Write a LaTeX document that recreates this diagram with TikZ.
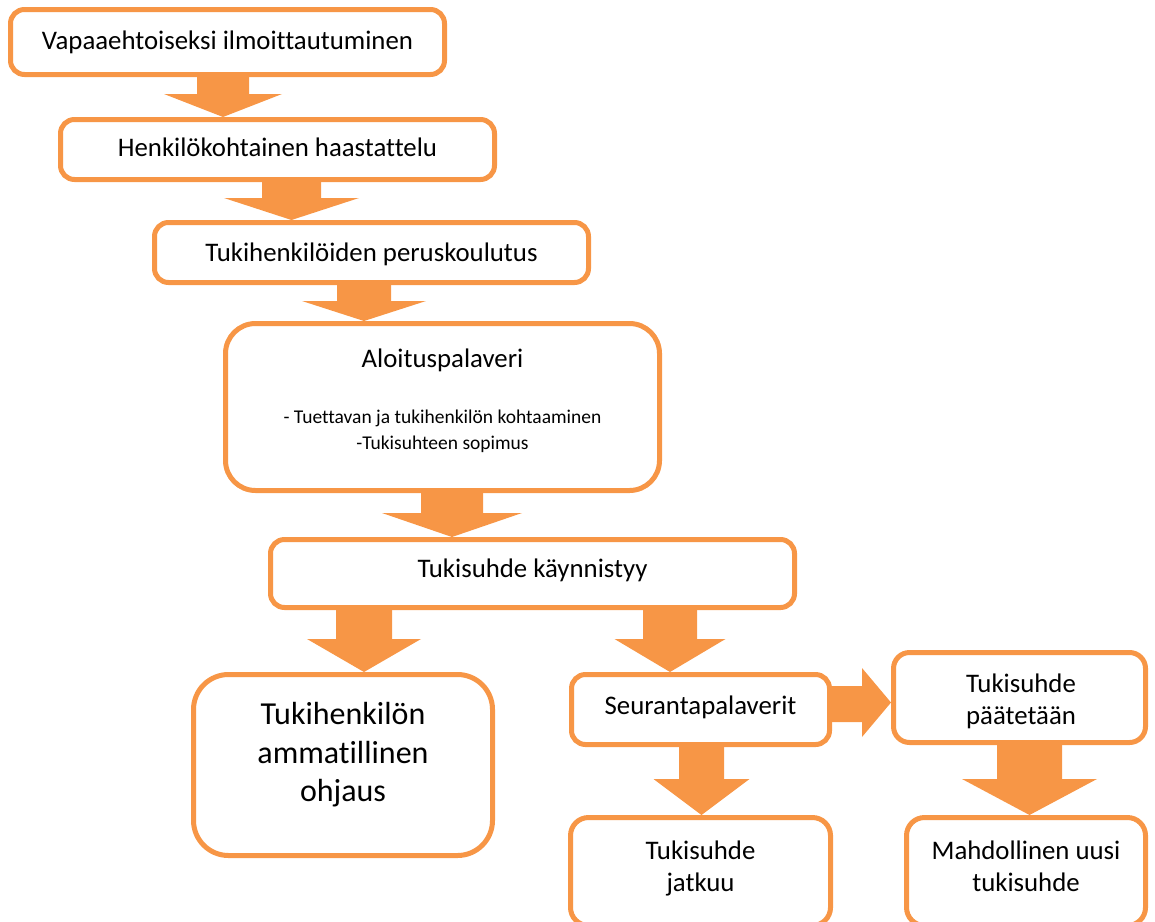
\documentclass[tikz,border=0pt]{standalone}
\usepackage{fontspec}
\setmainfont{Carlito}[Ligatures={NoCommon}]
\usetikzlibrary{calc}
\pgfdeclarelayer{background}
\pgfsetlayers{background,main}
\definecolor{accent}{HTML}{F79646}
\tikzset{
  box/.style={draw=accent, line width=5pt, fill=white, rounded corners=#1, inner sep=0pt},
  box/.default=14pt,
  lbl/.style={anchor=base, inner sep=0pt, text=black, font=\fontsize{26.8}{32}\selectfont},
  small/.style={lbl, font=\fontsize{19.5}{24}\selectfont},
  big/.style={lbl, font=\fontsize{32}{38}\selectfont},
  arr/.style={fill=accent, draw=none},
}
% #1 from node, #2 to node, #3 x, #4 shaft half width, #5 head half width, #6 y where head starts
\newcommand\BlockDown[6]{%
  \fill[arr] (#3-#4,0 |- #1.south) -- (#3-#4,#6) -- (#3-#5,#6) -- (#3,0 |- #2.north)
    -- (#3+#5,#6) -- (#3+#4,#6) -- (#3+#4,0 |- #1.south) -- cycle;}
\begin{document}
\begin{tikzpicture}[x=1pt, y=-1pt]
\useasboundingbox (0,0) rectangle (1155,921);
\clip (0,0) rectangle (1155,921);
% boxes
\node[box, minimum width=434pt, minimum height=65pt] (b1) at (227.5,42) {};
\node[box, minimum width=434pt, minimum height=60pt] (b2) at (277.5,149.5) {};
\node[box, minimum width=434pt, minimum height=60pt] (b3) at (371.5,252.5) {};
\node[box=30pt, minimum width=434pt, minimum height=167pt] (b4) at (442.5,407) {};
\node[box, minimum width=524pt, minimum height=68pt] (b5) at (532.5,573.5) {};
\node[box=35pt, minimum width=299pt, minimum height=181pt] (b6) at (343,765) {};
\node[box, minimum width=258pt, minimum height=70pt] (b7) at (700.5,709.5) {};
\node[box=16pt, minimum width=252pt, minimum height=90pt] (b8) at (1019.5,697.5) {};
\node[box=18pt, minimum width=260pt, minimum height=108pt] (b9) at (700.5,871.5) {};
\node[box=18pt, minimum width=239pt, minimum height=108pt] (b10) at (1026,871.5) {};
% texts
\node[lbl] (t1) at (227.5,49.3) {Vapaaehtoiseksi ilmoittautuminen};
\node[lbl] (t2) at (277.5,156.7) {Henkilökohtainen haastattelu};
\node[lbl] (t3) at (371.5,261.7) {Tukihenkilöiden peruskoulutus};
\node[lbl] (t4a) at (442.5,367) {Aloituspalaveri};
\node[small] (t4b) at (442.5,423) {- Tuettavan ja tukihenkilön kohtaaminen};
\node[small] (t4c) at (442.5,449) {-Tukisuhteen sopimus};
\node[lbl] (t5) at (532.5,577.7) {Tukisuhde käynnistyy};
\node[big] (t6a) at (343,724) {Tukihenkilön};
\node[big] (t6b) at (343,763) {ammatillinen};
\node[big] (t6c) at (343,801.5) {ohjaus};
\node[lbl] (t7) at (700.5,714) {Seurantapalaverit};
\node[lbl] (t8a) at (1021,692.7) {Tukisuhde};
\node[lbl] (t8b) at (1021,724) {päätetään};
\node[lbl] (t9a) at (700.5,859) {Tukisuhde};
\node[lbl] (t9b) at (700.5,891.5) {jatkuu};
\node[lbl] (t10a) at (1026,859.3) {Mahdollinen uusi};
\node[lbl] (t10b) at (1026,891) {tukisuhde};
% block arrows
\begin{pgfonlayer}{background}
\BlockDown{b1}{b2}{223}{26}{59}{94}
\BlockDown{b2}{b3}{291.5}{29.5}{67.5}{198}
\BlockDown{b3}{b4}{364}{27}{62}{301}
\BlockDown{b4}{b5}{452}{31}{70}{513}
\BlockDown{b5}{b6}{364}{28}{57}{639}
\BlockDown{b5}{b7}{670}{27}{55.5}{639}
\BlockDown{b7}{b9}{701.5}{22.5}{48}{779}
\BlockDown{b8}{b10}{1029.5}{32.5}{67.5}{779}
\fill[arr] (b7.east |- 0,686) -- (862,686) -- (862,668) -- (b8.west |- 0,702.5)
  -- (862,737) -- (862,722) -- (b7.east |- 0,722) -- cycle;
\end{pgfonlayer}
\end{tikzpicture}
\end{document}
